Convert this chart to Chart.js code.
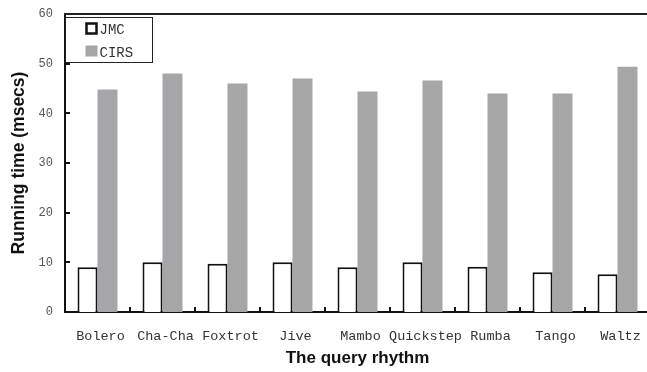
<!DOCTYPE html>
<html>
<head>
<meta charset="utf-8">
<script src="https://cdn.jsdelivr.net/npm/chart.js@4/dist/chart.umd.min.js"></script>
<style>
  html, body { margin: 0; padding: 0; overflow: hidden; background: #fff; }
  #wrap { width: 680px; height: 372px; }
</style>
</head>
<body>
<div id="wrap"><canvas id="chart" width="680" height="372"></canvas></div>
<script>
// rhythms on the x axis
const rhythms = ['Bolero', 'Cha-Cha', 'Foxtrot', 'Jive', 'Mambo', 'Quickstep', 'Rumba', 'Tango', 'Waltz'];
// running times in msecs
const jmcTimes  = [9.0, 10.0, 9.7, 10.0, 9.0, 10.0, 9.1, 8.0, 7.6];
const cirsTimes = [44.8, 48.0, 46.0, 47.0, 44.4, 46.6, 44.0, 44.0, 49.4];
const yTicks = [0, 10, 20, 30, 40, 50, 60];

const GRAY = '#a6a6a9';

// inward tick marks, top border line and the boxed legend
const decor = {
  id: 'decor',
  afterDraw(chart) {
    const ctx = chart.ctx;
    const x = chart.scales.x, y = chart.scales.y;
    const area = chart.chartArea;
    ctx.save();
    ctx.strokeStyle = '#111';
    ctx.lineWidth = 2;
    // y ticks pointing into the plot
    yTicks.forEach(v => {
      const py = Math.round(y.getPixelForValue(v));
      ctx.beginPath();
      ctx.moveTo(area.left, py);
      ctx.lineTo(area.left + 5, py);
      ctx.stroke();
    });
    // x ticks between categories
    for (let i = 1; i < rhythms.length; i++) {
      const px = Math.round((x.getPixelForValue(i) + x.getPixelForValue(i - 1)) / 2);
      ctx.beginPath();
      ctx.moveTo(px, area.bottom);
      ctx.lineTo(px, area.bottom - 5);
      ctx.stroke();
    }
    // top frame line
    ctx.strokeStyle = '#222';
    ctx.beginPath();
    ctx.moveTo(area.left - 1, area.top);
    ctx.lineTo(area.right, area.top);
    ctx.stroke();

    // legend box
    const lx = area.left + 0.5, ly = area.top + 3.5;
    ctx.fillStyle = '#fff';
    ctx.fillRect(lx, ly, 87, 45);
    ctx.lineWidth = 1;
    ctx.strokeStyle = '#222';
    ctx.strokeRect(lx, ly, 87, 45);
    const ds = chart.data.datasets;
    ctx.font = '14px "Liberation Mono", monospace';
    ctx.textBaseline = 'middle';
    ds.forEach((d, i) => {
      const sy = ly + 6 + i * 23;
      if (d.borderWidth) {
        ctx.lineWidth = 2.5;
        ctx.strokeStyle = d.borderColor;
        ctx.strokeRect(lx + 21, sy, 10, 10);
      } else {
        ctx.fillStyle = d.backgroundColor;
        ctx.fillRect(lx + 20, sy - 1, 12, 11);
      }
      ctx.fillStyle = '#333';
      ctx.fillText(d.label, lx + 34, sy + 7);
    });
    ctx.restore();
  }
};

new Chart(document.getElementById('chart').getContext('2d'), {
  type: 'bar',
  data: {
    labels: rhythms,
    datasets: [
      {
        label: 'JMC',
        data: jmcTimes,
        backgroundColor: '#fff',
        borderColor: '#111',
        borderWidth: 2,
        categoryPercentage: 0.615,
        barPercentage: 1.0
      },
      {
        label: 'CIRS',
        data: cirsTimes,
        backgroundColor: GRAY,
        borderWidth: 0,
        categoryPercentage: 0.615,
        barPercentage: 1.0
      }
    ]
  },
  options: {
    responsive: false,
    animation: false,
    layout: { padding: { left: 0, right: 30, top: 14, bottom: 0 } },
    plugins: {
      legend: { display: false },
      tooltip: { enabled: false }
    },
    scales: {
      x: {
        grid: { display: false, drawTicks: false },
        border: { color: '#111', width: 2 },
        ticks: {
          autoSkip: false,
          maxRotation: 0,
          minRotation: 0,
          padding: 16,
          labelOffset: 3,
          color: '#333',
          font: { family: '"Liberation Mono", monospace', size: 13.5 }
        },
        title: {
          display: true,
          text: 'The query rhythm',
          color: '#111',
          padding: { top: 3, bottom: 3 },
          font: { family: '"Liberation Sans", Arial, sans-serif', size: 17, weight: 'bold' }
        },
        afterFit(s) { s.height = 60; }
      },
      y: {
        min: 0,
        max: 60,
        afterBuildTicks(s) { s.ticks = yTicks.map(v => ({ value: v })); },
        grid: { display: false, drawTicks: false },
        border: { color: '#111', width: 2 },
        ticks: {
          padding: 12,
          color: '#555',
          font: { family: '"Liberation Mono", monospace', size: 12 }
        },
        title: {
          display: true,
          text: 'Running time (msecs)',
          color: '#111',
          padding: { top: 9, bottom: 0 },
          font: { family: '"Liberation Sans", Arial, sans-serif', size: 17.5, weight: 'bold' }
        },
        afterFit(s) { s.width = 65; s.paddingTop = 0; s.paddingBottom = 0; }
      }
    }
  },
  plugins: [decor]
});
</script>
</body>
</html>
